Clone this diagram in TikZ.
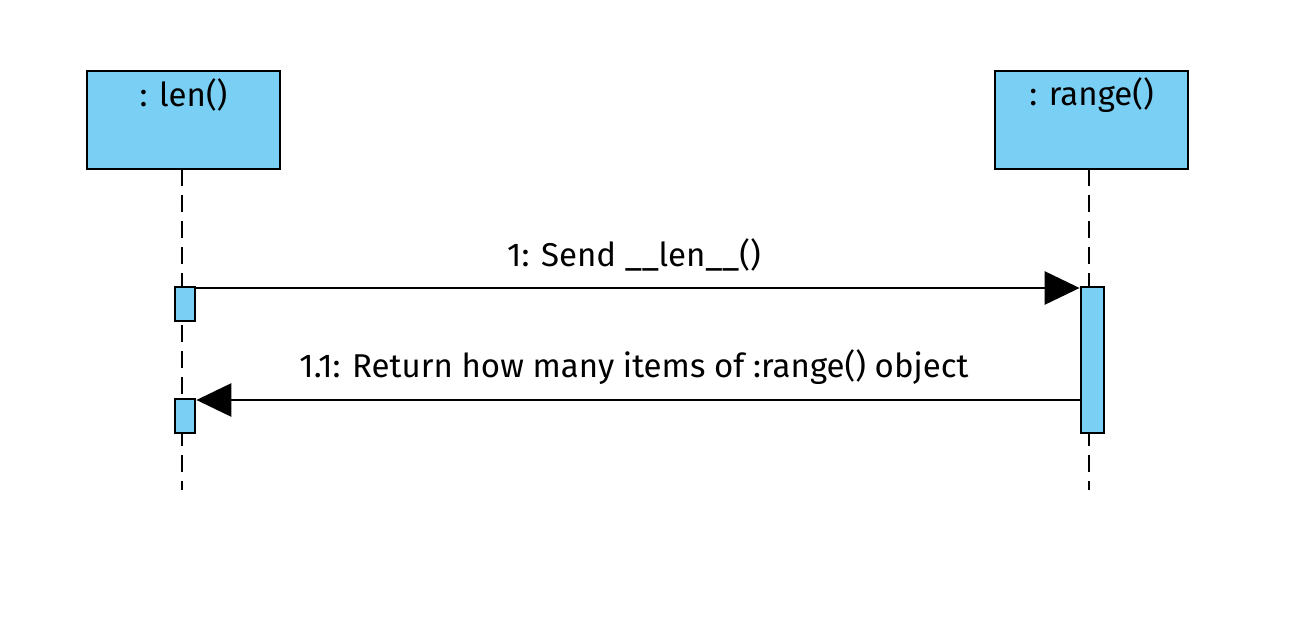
\documentclass[tikz,border=0pt]{standalone}
\usepackage{fontspec}
\setmainfont{Fira Sans}
\usetikzlibrary{arrows.meta}
\definecolor{objfill}{RGB}{122,207,244}
\tikzset{
  obj/.style={draw=black, line width=2.8pt, fill=objfill, minimum width=193pt, minimum height=98pt, inner sep=0pt},
  act/.style={draw=black, line width=2.8pt, fill=objfill, inner sep=0pt},
  lifeline/.style={line width=2.8pt, dash pattern=on 17pt off 9pt},
  msg/.style={line width=2.8pt, -{Triangle[length=35pt,width=33pt]}},
  lbl/.style={font=\fontsize{33}{39}\selectfont, inner sep=0pt}
}
\begin{document}
\begin{tikzpicture}[x=1pt,y=-1pt]
\useasboundingbox (0,0) rectangle (1298,626);
\node[obj] (lenbox) at (183.5,120) {};
\node[lbl] (lentxt) at (183.5,95) {: len()};
\node[obj] (rangebox) at (1091.5,120) {};
\node[lbl] (rangetxt) at (1091.5,95) {: range()};
\coordinate (lenend) at (182,490);
\coordinate (rangeend) at (1089,490);
\draw[lifeline] (182,169) -- (lenend);
\draw[lifeline] (1089,169) -- (rangeend);
\node[act, minimum width=20pt, minimum height=34pt] (a1) at (185,304) {};
\node[act, minimum width=20pt, minimum height=34pt] (a2) at (185,416) {};
\node[act, minimum width=23pt, minimum height=146pt] (r1) at (1092.5,360) {};
\draw[msg] (a1.east |- 0,288) -- (r1.west |- 0,288);
\node[lbl] (m1) at (634,255) {1: Send \_\_len\_\_()};
\draw[msg] (r1.west |- 0,400) -- (a2.east |- 0,400);
\node[lbl] (m2) at (634,367) {1.1: Return how many items of :range() object};
\end{tikzpicture}
\end{document}
